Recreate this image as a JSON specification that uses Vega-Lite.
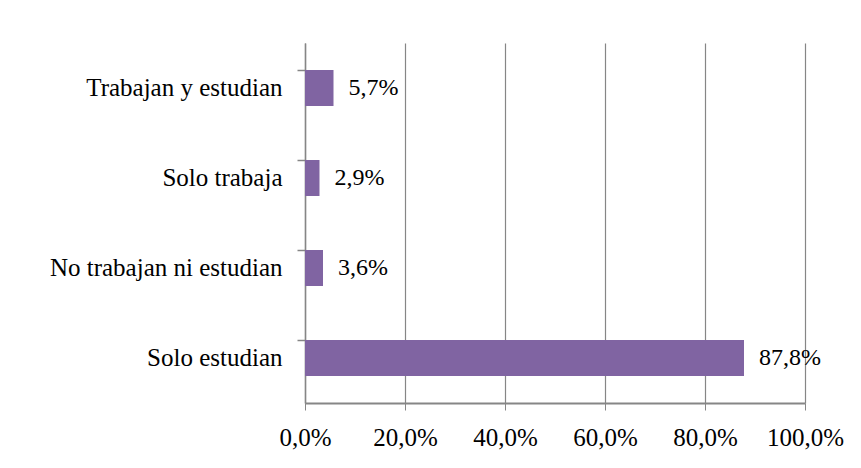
{
  "$schema": "https://vega.github.io/schema/vega-lite/v6.json",
  "width": 500,
  "height": 360,
  "autosize": {"type": "none"},
  "padding": {"left": 305, "top": 43, "right": 56, "bottom": 65},
  "background": "white",
  "title": {
    "text": "ENTRE 5 Y 17 AÑOS EN 2003 EN PICHINCHA",
    "font": "'Liberation Serif', 'Times New Roman', 'DejaVu Serif', serif",
    "fontSize": 28,
    "fontWeight": "bold",
    "color": "#000000",
    "anchor": "middle",
    "baseline": "alphabetic",
    "offset": 37,
    "dy": 20,
    "dx": -116
  },
  "data": {
    "values": [
      {"categoria": "Trabajan y estudian", "valor": 5.7, "etiqueta": "5,7%"},
      {"categoria": "Solo trabaja", "valor": 2.9, "etiqueta": "2,9%"},
      {"categoria": "No trabajan ni estudian", "valor": 3.6, "etiqueta": "3,6%"},
      {"categoria": "Solo estudian", "valor": 87.8, "etiqueta": "87,8%"}
    ]
  },
  "encoding": {
    "y": {
      "field": "categoria",
      "type": "nominal",
      "sort": null,
      "scale": {"paddingInner": 0.6, "paddingOuter": 0.3},
      "axis": {
        "title": null,
        "bandPosition": 0,
        "domain": true,
        "domainColor": "#868686",
        "domainWidth": 1.5,
        "ticks": true,
        "tickColor": "#868686",
        "tickSize": 8,
        "tickWidth": 1.5,
        "labelFont": "'Liberation Serif', 'Times New Roman', 'DejaVu Serif', serif",
        "labelFontSize": 25,
        "labelColor": "#000000",
        "labelPadding": 15,
        "labelLimit": 400,
        "grid": false
      }
    }
  },
  "layer": [
    {
      "mark": {"type": "bar", "color": "#8064A2"},
      "encoding": {
        "x": {
          "field": "valor",
          "type": "quantitative",
          "scale": {"domain": [0, 100], "nice": false},
          "axis": {
            "title": null,
            "values": [0, 20, 40, 60, 80, 100],
            "labelExpr": "replace(format(datum.value, '.1f'), '.', ',') + '%'",
            "labelFont": "'Liberation Serif', 'Times New Roman', 'DejaVu Serif', serif",
            "labelFontSize": 25,
            "labelColor": "#000000",
            "labelPadding": 15,
            "labelOverlap": false,
            "labelBound": false,
            "labelFlush": false,
            "domainColor": "#868686",
            "domainWidth": 2,
            "tickColor": "#868686",
            "tickSize": 7,
            "tickWidth": 1,
            "grid": true,
            "gridColor": "#868686",
            "gridWidth": 1.2
          }
        }
      }
    },
    {
      "mark": {
        "type": "text",
        "align": "left",
        "baseline": "middle",
        "dx": 15,
        "font": "'Liberation Serif', 'Times New Roman', 'DejaVu Serif', serif",
        "fontSize": 24,
        "color": "#000000"
      },
      "encoding": {
        "x": {"field": "valor", "type": "quantitative"},
        "text": {"field": "etiqueta"}
      }
    }
  ],
  "config": {
    "view": {"stroke": null}
  }
}
